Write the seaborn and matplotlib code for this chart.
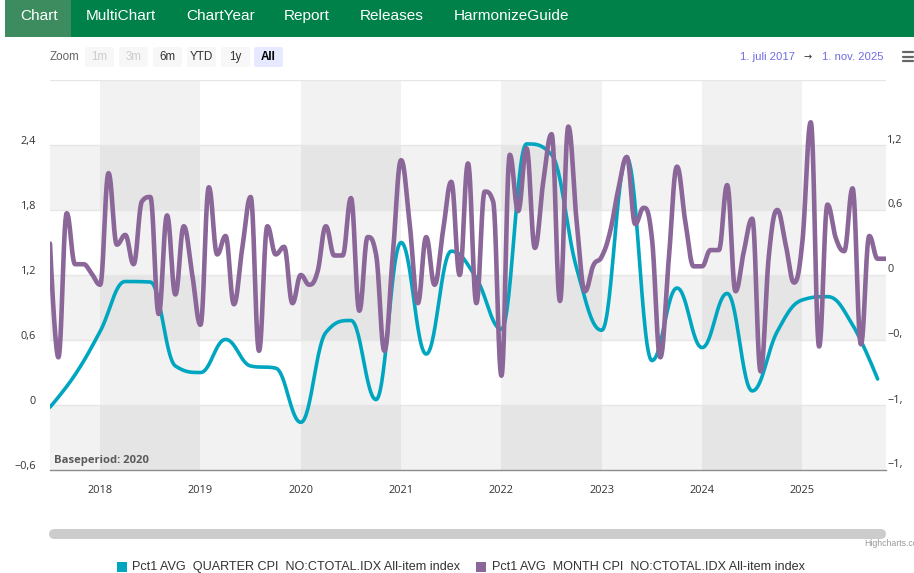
import numpy as np
import pandas as pd
import matplotlib
matplotlib.use("Agg")
import matplotlib.pyplot as plt
import seaborn as sns
from matplotlib.patches import Rectangle, FancyBboxPatch
from matplotlib.transforms import Bbox, ScaledTranslation, blended_transform_factory

# ---------------- data ----------------
quarter_start = 2017.5          # 1 July 2017, quarterly points
quarter_values = [-0.02, 0.28, 0.68, 1.14, 1.135, 0.36, 0.30, 0.605, 0.36, 0.34,
                  -0.16, 0.67, 0.78, 0.05, 1.50, 0.47, 1.42, 1.17, 0.70, 2.41,
                  2.31, 1.26, 0.69, 2.28, 0.41, 1.08, 0.53, 1.03, 0.13, 0.68,
                  0.97, 1.00, 0.74, 0.24]
month_start = 2017.5            # July 2017, monthly points
month_values = [0.29, -0.76, 0.57, 0.10, 0.10, 0.01, -0.09, 0.94, 0.28, 0.37,
                0.10, 0.68, 0.72, -0.36, 0.55, -0.18, 0.45, 0.01, -0.46, 0.81,
                0.19, 0.36, -0.27, 0.25, 0.72, -0.70, 0.45, 0.19, 0.26, -0.26,
                0.00, -0.09, 0.03, 0.45, 0.18, 0.18, 0.71, -0.33, 0.35, 0.19,
                -0.70, 0.18, 1.06, 0.49, -0.26, 0.35, -0.09, 0.40, 0.86, 0.00,
                1.03, -0.26, 0.77, 0.68, -0.93, 1.11, 0.59, 1.17, 0.25, 0.86,
                1.30, -0.24, 1.37, 0.49, -0.15, 0.09, 0.17, 0.40, 0.80, 1.09,
                0.47, 0.62, 0.34, -0.76, 0.13, 1.00, 0.49, 0.08, 0.08, 0.23,
                0.23, 0.83, -0.15, 0.22, 0.52, -0.89, 0.19, 0.60, 0.28, -0.07,
                0.31, 1.41, -0.66, 0.65, 0.34, 0.22, 0.80, -0.64, 0.36, 0.15,
                0.15]
year_ticks = list(range(2018, 2026))
left_ticks = [-0.6, 0, 0.6, 1.2, 1.8, 2.4]
right_ticks = [-1.8, -1.2, -0.6, 0, 0.6, 1.2]
nav_items = ["Chart", "MultiChart", "ChartYear", "Report", "Releases", "HarmonizeGuide"]
zoom_buttons = ["1m", "3m", "6m", "YTD", "1y", "All"]
series_names = ["Pct1 AVG  QUARTER CPI  NO:CTOTAL.IDX All-item index",
                "Pct1 AVG  MONTH CPI  NO:CTOTAL.IDX All-item index"]
date_from, date_to = "1. juli 2017", "1. nov. 2025"
base_text = "Baseperiod: 2020"

TEAL = "#00a6c0"
PURPLE = "#8a6699"

# ---------------- helpers ----------------
W, H = 914, 573


def fx(x):
    return x / W


def fy(y):
    return 1 - y / H


def hc_spline(xs, ys, n=30):
    """Highcharts-style spline path (smoothing 1.5) evaluated as cubic Beziers."""
    xs = np.asarray(xs, float)
    ys = np.asarray(ys, float)
    N = len(xs)
    s, d = 1.5, 2.5
    lcx, lcy, rcx, rcy = xs.copy(), ys.copy(), xs.copy(), ys.copy()
    for i in range(1, N - 1):
        px, py = xs[i], ys[i]
        lx, ly = xs[i - 1], ys[i - 1]
        nx, ny = xs[i + 1], ys[i + 1]
        a = (s * px + lx) / d
        b = (s * py + ly) / d
        c = (s * px + nx) / d
        e = (s * py + ny) / d
        corr = ((e - b) * (c - px)) / (c - a) + py - e
        b += corr
        e += corr
        if b > ly and b > py:
            b = max(ly, py); e = 2 * py - b
        elif b < ly and b < py:
            b = min(ly, py); e = 2 * py - b
        if e > ny and e > py:
            e = max(ny, py); b = 2 * py - e
        elif e < ny and e < py:
            e = min(ny, py); b = 2 * py - e
        lcx[i], lcy[i], rcx[i], rcy[i] = a, b, c, e
    t = np.linspace(0, 1, n)
    outx, outy = [], []
    for i in range(1, N):
        p0 = (xs[i - 1], ys[i - 1]); p1 = (rcx[i - 1], rcy[i - 1])
        p2 = (lcx[i], lcy[i]); p3 = (xs[i], ys[i])
        tt = t if i == 1 else t[1:]
        m = 1 - tt
        bx = m**3 * p0[0] + 3 * m**2 * tt * p1[0] + 3 * m * tt**2 * p2[0] + tt**3 * p3[0]
        by = m**3 * p0[1] + 3 * m**2 * tt * p1[1] + 3 * m * tt**2 * p2[1] + tt**3 * p3[1]
        outx.append(bx); outy.append(by)
    return np.concatenate(outx), np.concatenate(outy)


def fmt(v):
    if abs(v) < 1e-9:
        return "0"
    s = f"{abs(v):.1f}".replace(".", ",")
    return ("\u2212" + s) if v < 0 else s


# ---------------- figure ----------------
sns.set_style("white")
plt.rcParams["font.family"] = ["Open Sans", "DejaVu Sans"]
fig = plt.figure(figsize=(W / 100, H / 100), dpi=100)
fig.patch.set_facecolor("white")

ax = fig.add_axes([fx(50), fy(470), (886 - 50) / W, (470 - 80) / H])
ax.set_xlim(2017.5, 2025 + 10 / 12)
ax.set_ylim(-0.6, 3.0)

# plot bands (alternating years and alternating rows)
for y0 in (2018, 2020, 2022, 2024):
    ax.axvspan(y0, y0 + 1, color="black", alpha=0.05, lw=0, zorder=0)
for lo, hi in ((1.8, 2.4), (0.6, 1.2), (-0.6, 0.0)):
    ax.axhspan(lo, hi, color="black", alpha=0.05, lw=0, zorder=0)
for g in [0.0, 0.6, 1.2, 1.8, 2.4, 3.0]:
    ax.axhline(g, color="#e6e6e6", lw=1, zorder=0.5)

# quarter series (left axis)
qx = quarter_start + np.arange(len(quarter_values)) / 4
sx, sy = hc_spline(qx, quarter_values)
sns.lineplot(x=sx, y=sy, ax=ax, sort=False, estimator=None, color=TEAL,
             linewidth=2.6, solid_capstyle="round", solid_joinstyle="round", legend=False)

# month series (right axis)
ax2 = ax.twinx()
ax2.set_ylim(-1.8, 1.8)
mx = month_start + np.arange(len(month_values)) / 12
sx2, sy2 = hc_spline(mx, month_values)
sns.lineplot(x=sx2, y=sy2, ax=ax2, sort=False, estimator=None, color=PURPLE,
             linewidth=3.3, solid_capstyle="round", solid_joinstyle="round", legend=False)
ax2.set_xlim(ax.get_xlim())

# axes styling
for sp in ("top", "right", "left"):
    ax.spines[sp].set_visible(False)
ax.spines["bottom"].set_color("#8c8c8c")
ax.spines["bottom"].set_linewidth(1)
for sp in ax2.spines.values():
    sp.set_visible(False)

ax.set_xticks(year_ticks)
ax.set_xticklabels([str(y) for y in year_ticks])
ax.tick_params(axis="x", direction="out", length=5, width=1, color="#8c8c8c",
               labelsize=7.9, labelcolor="#333333", pad=5.5)
ax.set_yticks(left_ticks)
ax.set_yticklabels([fmt(v) for v in left_ticks])
ax.tick_params(axis="y", length=0, pad=10, labelsize=7.8, labelcolor="#333333")
up = ScaledTranslation(0, 5 / 100, fig.dpi_scale_trans)
for lab in ax.get_yticklabels():
    lab.set_transform(lab.get_transform() + up)
ax.set_xlabel(""); ax.set_ylabel("")
ax2.set_yticks([]); ax2.set_ylabel("")
ax.grid(False); ax2.grid(False)

# right axis labels (clipped at the edge like the reference)
rt = blended_transform_factory(fig.transFigure, ax2.transData) + up
clip = Bbox([[0, 0], [901.5, H]])
for v in right_ticks:
    t = ax2.text(fx(887), v, fmt(v), transform=rt, ha="left", va="center",
                 fontsize=7.8, color="#333333", clip_on=True)
    t.set_clip_box(clip)

# base period label
fig.canvas.draw()
renderer = fig.canvas.get_renderer()


def fit(t, width_px):
    bb = t.get_window_extent(renderer)
    t.set_fontsize(t.get_fontsize() * width_px / bb.width)
    return t


tb = fig.text(fx(54), fy(460), base_text, ha="left", va="center", fontsize=9,
              fontweight="bold", color="#5a5a5a")
fit(tb, 95)

# ---------------- navigation bar ----------------
fig.add_artist(Rectangle((fx(5), fy(37)), (W - 5) / W, 37 / H, transform=fig.transFigure,
                         color="#00814a", lw=0, zorder=1))
fig.add_artist(Rectangle((fx(5), fy(37)), 66 / W, 37 / H, transform=fig.transFigure,
                         color="#3d8c60", lw=0, zorder=2))
nav_x = [20, 86, 186, 284, 360, 454]
probe = fig.text(0, 0, nav_items[-1], fontsize=11, family=["Liberation Sans", "DejaVu Sans"])
fit(probe, 115)
nav_fs = probe.get_fontsize()
probe.remove()
for x, name in zip(nav_x, nav_items):
    fig.text(fx(x), fy(16), name, ha="left", va="center", fontsize=nav_fs, color="white",
             family=["Liberation Sans", "DejaVu Sans"], zorder=3)

# ---------------- range selector ----------------
fig.text(fx(50), fy(57), "Zoom", ha="left", va="center", fontsize=8.4, color="#666666",
         family=["Liberation Sans", "DejaVu Sans"])
btn_x = [85, 119, 153, 187, 221, 254]
for i, (x, lab) in enumerate(zip(btn_x, zoom_buttons)):
    active = lab == "All"
    face = "#e6e9ff" if active else "#f7f7f7"
    fig.add_artist(FancyBboxPatch((fx(x), fy(67)), 29 / W, 20 / H,
                                  boxstyle="round,pad=0,rounding_size=0.003",
                                  transform=fig.transFigure, facecolor=face, edgecolor="none"))
    col = "#cccccc" if i < 2 else ("#000000" if active else "#333333")
    fig.text(fx(x + 14.5), fy(57), lab, ha="center", va="center", fontsize=8.4, color=col,
             fontweight="bold" if active else "normal",
             family=["Liberation Sans", "DejaVu Sans"])

t1 = fig.text(fx(740), fy(57), date_from, ha="left", va="center", fontsize=8,
              color="#6c6ce6", family=["Liberation Sans", "DejaVu Sans"])
fit(t1, 55)
fig.text(fx(808), fy(57), "\u2192", ha="center", va="center", fontsize=7,
         color="#333333", family=["DejaVu Sans"])
t2 = fig.text(fx(822), fy(57), date_to, ha="left", va="center", fontsize=t1.get_fontsize(),
              color="#6c6ce6", family=["Liberation Sans", "DejaVu Sans"])

# hamburger menu
for yy in (52, 56.5, 61):
    fig.add_artist(plt.Line2D([fx(903), fx(913)], [fy(yy), fy(yy)], transform=fig.transFigure,
                              color="#666666", lw=1.6))

# ---------------- scrollbar + credits ----------------
fig.add_artist(FancyBboxPatch((fx(49), fy(539)), (886 - 49) / W, 10 / H,
                              boxstyle="round,pad=0,rounding_size=0.006",
                              mutation_aspect=W / H,
                              transform=fig.transFigure, facecolor="#cccccc", edgecolor="none"))
fig.text(fx(864), fy(544), "Highcharts.com", ha="left", va="center", fontsize=6.3,
         color="#999999", family=["Liberation Sans", "DejaVu Sans"])

# ---------------- legend ----------------
fig.add_artist(Rectangle((fx(117), fy(572)), 10 / W, 10 / H, transform=fig.transFigure,
                         color=TEAL, lw=0))
fig.add_artist(Rectangle((fx(476), fy(572)), 10 / W, 10 / H, transform=fig.transFigure,
                         color=PURPLE, lw=0))
lp = fig.text(fx(491.5), fy(567), series_names[1], ha="left", va="center", fontsize=9.5,
              color="#333333", family=["Liberation Sans", "DejaVu Sans"])
fit(lp, 315)
fig.text(fx(131.5), fy(567), series_names[0], ha="left", va="center",
         fontsize=lp.get_fontsize(), color="#333333",
         family=["Liberation Sans", "DejaVu Sans"])

fig.savefig("out.png", dpi=100)
